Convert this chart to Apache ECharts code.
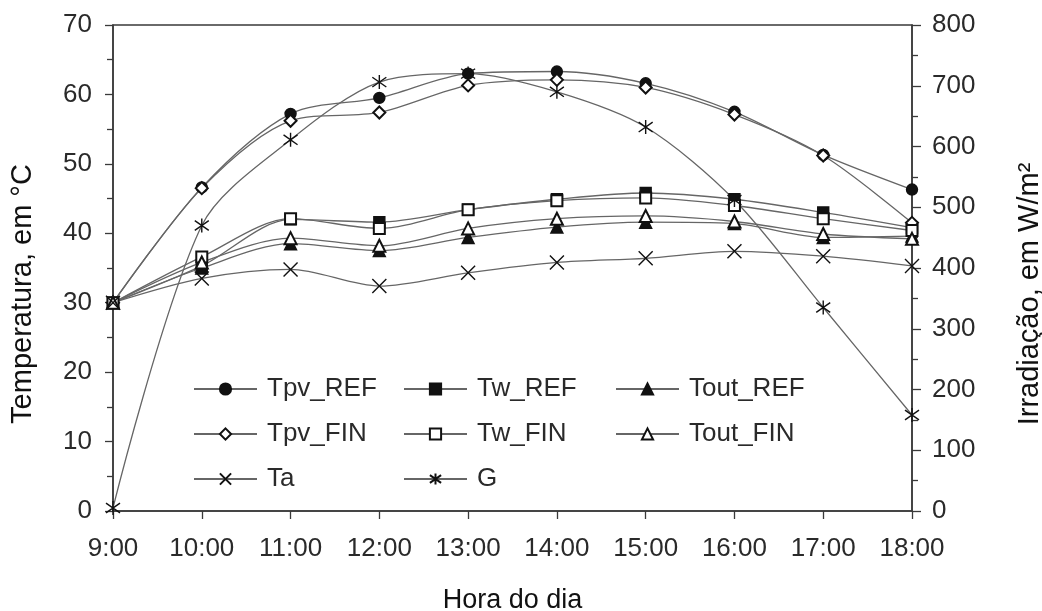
<!DOCTYPE html>
<html>
<head>
<meta charset="utf-8">
<script src="https://cdn.jsdelivr.net/npm/echarts@6/dist/echarts.min.js"></script>
<style>html,body{margin:0;padding:0;background:#fff;}#c{width:1042px;height:611px;}</style>
</head>
<body>
<div id="c"></div>
<script>
var hours = ['9:00','10:00','11:00','12:00','13:00','14:00','15:00','16:00','17:00','18:00'];
var tpvRef  = [30, 46.6, 57.2, 59.5, 63.0, 63.3, 61.6, 57.5, 51.3, 46.3];
var tpvFin  = [30, 46.5, 56.2, 57.4, 61.3, 62.1, 61.0, 57.1, 51.2, 41.5];
var twRef   = [30, 35.3, 42.0, 41.6, 43.4, 44.9, 45.8, 44.9, 43.0, 40.8];
var twFin   = [30, 36.6, 42.1, 40.7, 43.4, 44.7, 45.1, 44.0, 42.1, 40.4];
var toutRef = [30, 35.0, 38.5, 37.5, 39.4, 40.9, 41.6, 41.4, 39.4, 39.6];
var toutFin = [30, 35.8, 39.3, 38.2, 40.7, 42.1, 42.5, 41.7, 39.9, 39.2];
var ta      = [30, 33.5, 34.8, 32.4, 34.3, 35.8, 36.4, 37.4, 36.7, 35.3];
var g       = [5, 470, 611, 706, 720, 690, 632, 512, 335, 158];
var tempTicks = [0, 70, 10];
var irrTicks = [0, 800, 100];

var FONT = 'Liberation Sans, Arial, Helvetica, sans-serif';
var TXT = '#2a2a2a';
var AX = '#3a3a3a';
var LINE = '#666';
var MK = '#111';

function mk(name, data, symbol, size, yIdx) {
  return {
    name: name, type: 'line', data: data, yAxisIndex: yIdx || 0,
    smooth: 0.3, symbol: symbol, symbolSize: size, showSymbol: true,
    lineStyle: { color: LINE, width: 1.3 },
    itemStyle: { color: MK, borderColor: MK, borderWidth: 1.4 },
    emphasis: { disabled: true }, animation: false
  };
}

var X_PATH = 'path://M0,0L10,10M10,0L0,10';
var AST_PATH = 'path://M5,0L5,10M0,1.5L10,8.5M0,8.5L10,1.5';

var series = [
  mk('Tpv_REF', tpvRef, 'circle', 11),
  mk('Tw_REF', twRef, 'rect', 11),
  mk('Tout_REF', toutRef, 'triangle', 12),
  mk('Tpv_FIN', tpvFin, 'emptyDiamond', 12),
  mk('Tw_FIN', twFin, 'emptyRect', 11),
  mk('Tout_FIN', toutFin, 'emptyTriangle', 12),
  mk('Ta', ta, X_PATH, 14),
  mk('G', g, AST_PATH, 14, 1)
];

function legendCol(left, names) {
  return {
    orient: 'vertical', left: left, top: 376, data: names,
    itemWidth: 63, itemHeight: 14, itemGap: 19,
    textStyle: { fontFamily: FONT, fontSize: 26, color: TXT, lineHeight: 26, padding: [0,0,0,5] },
    selectedMode: false, padding: 0
  };
}

var chart = echarts.init(document.getElementById('c'), null, { renderer: 'canvas' });
chart.setOption({
  backgroundColor: '#fff',
  animation: false,
  grid: { left: 113, right: 130, top: 25, bottom: 100, containLabel: false, outerBoundsMode: 'none',
          show: true, borderColor: AX, borderWidth: 1.5, backgroundColor: 'transparent' },
  legend: [
    legendCol(193, ['Tpv_REF', 'Tpv_FIN', 'Ta']),
    legendCol(403, ['Tw_REF', 'Tw_FIN', 'G']),
    legendCol(615, ['Tout_REF', 'Tout_FIN'])
  ],
  xAxis: {
    type: 'category', data: hours, boundaryGap: false,
    name: 'Hora do dia', nameLocation: 'middle', nameGap: 76, nameMoveOverlap: false,
    nameTextStyle: { fontFamily: FONT, fontSize: 27, color: '#111' },
    axisLine: { lineStyle: { color: AX, width: 1.5 } },
    axisTick: { alignWithLabel: true, length: 8, lineStyle: { color: AX, width: 1.3 } },
    axisLabel: { margin: 25, fontFamily: FONT, fontSize: 26, color: TXT },
    splitLine: { show: false }
  },
  yAxis: [
    {
      type: 'value', min: tempTicks[0], max: tempTicks[1], interval: tempTicks[2], position: 'left',
      name: 'Temperatura, em °C', nameLocation: 'middle', nameGap: 76, nameMoveOverlap: false,
      nameTextStyle: { fontFamily: FONT, fontSize: 29, color: '#111', padding: [0, 52, 0, 0] },
      axisLine: { show: true, lineStyle: { color: AX, width: 1.5 } },
      axisTick: { show: true, length: 8, lineStyle: { color: AX, width: 1.3 } },
      minorTick: { show: true, splitNumber: 2, length: 6, lineStyle: { color: AX, width: 1.3 } },
      axisLabel: { margin: 21, fontFamily: FONT, fontSize: 26, color: TXT },
      splitLine: { show: false }
    },
    {
      type: 'value', min: irrTicks[0], max: irrTicks[1], interval: irrTicks[2], position: 'right',
      name: 'Irradiação, em W/m²', nameLocation: 'middle', nameGap: 103, nameMoveOverlap: false,
      nameTextStyle: { fontFamily: FONT, fontSize: 29, color: '#111', padding: [0, 52, 0, 0] },
      axisLine: { show: true, lineStyle: { color: AX, width: 1.5 } },
      axisTick: { show: true, length: 9, lineStyle: { color: AX, width: 1.3 } },
      minorTick: { show: true, splitNumber: 2, length: 6, lineStyle: { color: AX, width: 1.3 } },
      axisLabel: { margin: 20, fontFamily: FONT, fontSize: 26, color: TXT },
      splitLine: { show: false }
    }
  ],
  series: series
});
</script>
</body>
</html>
